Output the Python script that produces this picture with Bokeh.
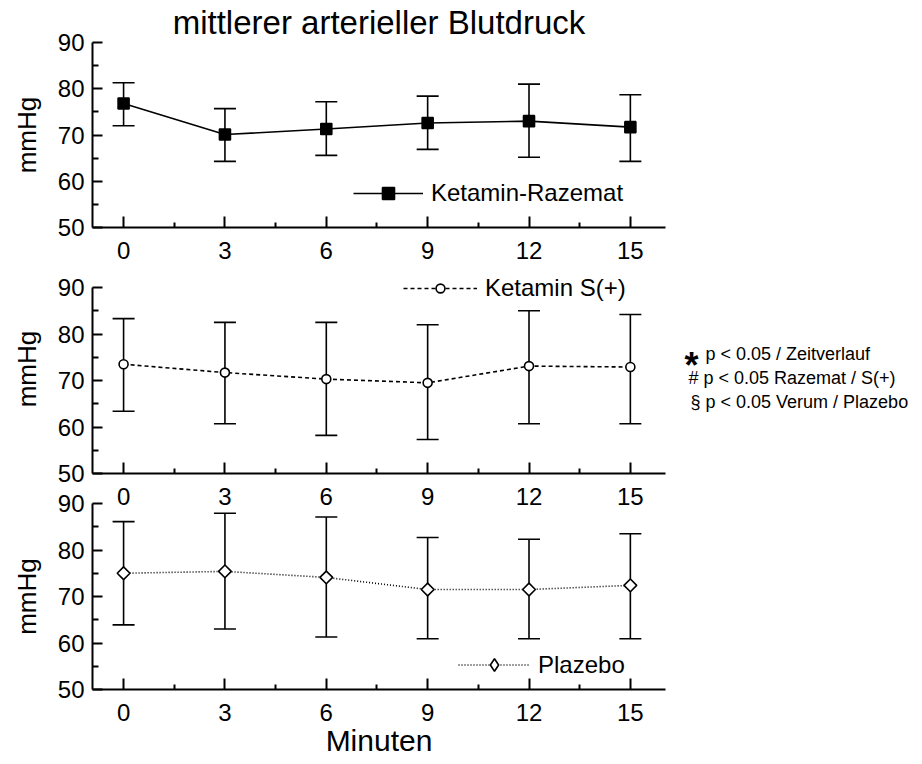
from bokeh.plotting import figure
from bokeh.models import (ColumnDataSource, Whisker, TeeHead, FixedTicker, Range1d,
                          Legend, LegendItem)
from bokeh.layouts import column, row
from bokeh.embed import file_html
from bokeh.resources import INLINE
from bokeh.core.properties import value
import math

# ---------------- data ----------------
minutes = [0, 3, 6, 9, 12, 15]
minute_labels = ["0", "3", "6", "9", "12", "15"]
minor_minutes = [1.5, 4.5, 7.5, 10.5, 13.5]
y_ticks = [50, 60, 70, 80, 90]
y_minor = [55, 65, 75, 85]

raz_mean = [76.8, 70.1, 71.3, 72.6, 73.0, 71.7]
raz_upper = [81.3, 75.7, 77.2, 78.4, 81.0, 78.7]
raz_lower = [72.0, 64.3, 65.6, 66.9, 65.2, 64.3]

s_mean = [73.5, 71.7, 70.3, 69.5, 73.1, 72.9]
s_upper = [83.3, 82.5, 82.5, 82.0, 85.0, 84.2]
s_lower = [63.4, 60.7, 58.2, 57.3, 60.7, 60.7]

pl_mean = [75.0, 75.4, 74.1, 71.5, 71.5, 72.4]
pl_upper = [86.1, 87.9, 87.1, 82.7, 82.3, 83.5]
pl_lower = [63.9, 63.0, 61.3, 60.9, 60.9, 60.9]

title_text = "mittlerer arterieller Blutdruck"
y_label = "mmHg"
x_label = "Minuten"
series_names = ["Ketamin-Razemat", "Ketamin S(+)", "Plazebo"]
notes = ["p < 0.05 / Zeitverlauf", "# p < 0.05 Razemat / S(+)", "§ p < 0.05 Verum / Plazebo"]

FONT = "Liberation Sans"
TICK_FS = "24px"
INK = "black"


def make_panel(mean, upper, lower, name, marker, dash, fill, msize, angle,
               leg_loc, glyph_w, glyph_h, top, bottom, height, y_top=90,
               title=None, xlabel=None, margin=None, legend_marker=None):
    kw = {}
    if margin is not None:
        kw["margin"] = margin
    p = figure(width=680, height=height,
               x_range=Range1d(-0.92, 16.04), y_range=Range1d(50, y_top),
               output_backend="svg", toolbar_location=None,
               min_border_left=92, min_border_right=15,
               min_border_top=top, min_border_bottom=bottom, **kw)
    p.border_fill_alpha = 0
    p.background_fill_alpha = 0
    p.outline_line_color = None
    p.grid.visible = False

    if title:
        p.title.text = title
        p.title.align = "center"
        p.title.text_font = FONT
        p.title.text_font_size = "33px"
        p.title.text_font_style = "normal"
        p.title.text_color = INK
        p.title.standoff = 3
        p.title.offset = -7

    src = ColumnDataSource(dict(x=minutes, y=mean, upper=upper, lower=lower))
    w = Whisker(source=src, base="x", upper="upper", lower="lower",
                line_width=1.6, line_color=INK, level="underlay",
                upper_head=TeeHead(size=22, line_width=1.6, line_color=INK),
                lower_head=TeeHead(size=22, line_width=1.6, line_color=INK))
    p.add_layout(w)
    lr = p.line("x", "y", source=src, line_color=INK, line_width=1.6,
                line_dash=dash)
    sr = p.scatter("x", "y", source=src, marker=marker, size=msize, angle=angle,
                   fill_color=fill, line_color=INK, line_width=1.6)
    leg_rend = sr
    if legend_marker is not None:
        leg_rend = p.scatter("x", "y", source=src, marker=legend_marker, size=msize,
                             fill_color=fill, line_color=INK, line_width=1.6,
                             visible=False)

    leg = Legend(items=[LegendItem(label=name, renderers=[lr, leg_rend])],
                 location=leg_loc, glyph_width=glyph_w, glyph_height=glyph_h,
                 label_text_font=FONT, label_text_font_size=TICK_FS,
                 label_text_color=INK, inactive_fill_alpha=0,
                 label_standoff=8, padding=0, margin=0, spacing=0,
                 border_line_alpha=0, background_fill_alpha=0)
    p.add_layout(leg)

    xa = p.xaxis[0]
    xa.ticker = FixedTicker(ticks=minutes, minor_ticks=minor_minutes)
    xa.major_label_overrides = {m: l for m, l in zip(minutes, minute_labels)}
    xa.major_tick_in = 11
    xa.major_tick_out = 0
    xa.minor_tick_in = 5
    xa.minor_tick_out = 0
    xa.axis_line_width = 2
    xa.major_tick_line_width = 2
    xa.minor_tick_line_width = 2
    xa.axis_line_color = INK
    xa.major_tick_line_color = INK
    xa.minor_tick_line_color = INK
    xa.major_label_text_font = FONT
    xa.major_label_text_font_size = TICK_FS
    xa.major_label_text_color = INK
    xa.major_label_standoff = 14
    if xlabel:
        xa.axis_label = xlabel
        xa.axis_label_text_font = FONT
        xa.axis_label_text_font_size = "30px"
        xa.axis_label_text_font_style = "normal"
        xa.axis_label_text_color = INK
        xa.axis_label_standoff = 0

    ya = p.yaxis[0]
    ya.ticker = FixedTicker(ticks=y_ticks, minor_ticks=y_minor)
    ya.bounds = (50, 90)
    ya.major_tick_in = 10
    ya.major_tick_out = 0
    ya.minor_tick_in = 6
    ya.minor_tick_out = 0
    ya.axis_line_width = 2
    ya.major_tick_line_width = 2
    ya.minor_tick_line_width = 2
    ya.axis_line_color = INK
    ya.major_tick_line_color = INK
    ya.minor_tick_line_color = INK
    ya.major_label_text_font = FONT
    ya.major_label_text_font_size = TICK_FS
    ya.major_label_text_color = INK
    ya.major_label_standoff = 8
    ya.axis_label = y_label
    ya.axis_label_text_font = FONT
    ya.axis_label_text_font_size = "26px"
    ya.axis_label_text_font_style = "normal"
    ya.axis_label_text_color = INK
    ya.axis_label_standoff = 13
    return p


# panel 1: canvas 0..268, frame 41..227
p1 = make_panel(raz_mean, raz_upper, raz_lower, series_names[0], "square", "solid",
                INK, 11, 0, (261, 19), 70, 30, 41, 41, 268, title=title_text)
# panel 2: canvas 264..514, frame 264..473 (value 90 at 287; extra room for legend)
p2 = make_panel(s_mean, s_upper, s_lower, series_names[1], "circle", "4 3",
                "white", 9, 0, (311, 171), 74, 22, 0, 41, 250,
                y_top=90 + 23 * 40 / 186, margin=(-4, 0, 0, 0))
# panel 3: canvas 486..764, frame 503..689
p3 = make_panel(pl_mean, pl_upper, pl_lower, series_names[2], "square", "1 2",
                "white", 9, math.pi / 4, (366, 9), 72, 31, 17, 75, 278,
                xlabel=x_label, margin=(-28, 0, 0, 0), legend_marker="diamond")

# right-hand annotation panel
pa = figure(width=242, height=764, x_range=Range1d(0, 242), y_range=Range1d(764, 0),
            output_backend="svg", toolbar_location=None, min_border=0,
            x_axis_type=None, y_axis_type=None)
pa.outline_line_color = None
pa.grid.visible = False
pa.border_fill_alpha = 0
pa.background_fill_alpha = 0
pa.text(x=[11], y=[365], text=["*"], text_font=value(FONT), text_font_size="36px",
        text_font_style="bold", text_align="center", text_baseline="middle",
        text_color=INK)
pa.text(x=[25, 8, 10], y=[353, 377, 401], text=notes, text_font=value(FONT),
        text_font_size="18px", text_align="left", text_baseline="middle",
        text_color=INK)

layout = row(column(p1, p2, p3), pa)
open("out.html", "w").write(file_html(layout, INLINE))
